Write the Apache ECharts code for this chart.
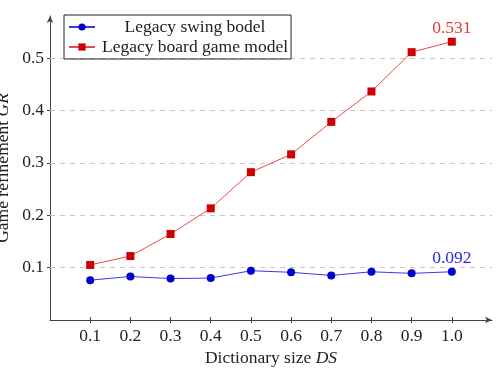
<!DOCTYPE html>
<html>
<head>
<meta charset="utf-8">
<script src="https://cdn.jsdelivr.net/npm/echarts@6/dist/echarts.min.js"></script>
<style>
  html, body { margin: 0; padding: 0; background: #fff; }
  #chart { width: 496px; height: 368px; }
</style>
</head>
<body>
<div id="chart"></div>
<script>
const dictSizes = [0.1, 0.2, 0.3, 0.4, 0.5, 0.6, 0.7, 0.8, 0.9, 1.0];
const swingModel = [0.076, 0.083, 0.079, 0.080, 0.094, 0.091, 0.085, 0.092, 0.089, 0.092];
const boardModel = [0.105, 0.122, 0.164, 0.213, 0.282, 0.316, 0.378, 0.436, 0.511, 0.531];
const xTicks = [0.1, 0.2, 0.3, 0.4, 0.5, 0.6, 0.7, 0.8, 0.9, 1.0];
const yTicks = [0.1, 0.2, 0.3, 0.4, 0.5];
const seriesNames = ["Legacy swing bodel", "Legacy board game model"];

const font = "'Liberation Serif', 'DejaVu Serif', serif";
const blue = "#0000cc", red = "#cc0000";
const fs = 17.5;

function points(values, labelColor) {
  return values.map((v, i) => {
    const p = { value: [dictSizes[i], v] };
    if (i === values.length - 1) {
      p.label = {
        show: true, position: "top", distance: 0,
        formatter: () => v.toFixed(3),
        color: labelColor, fontFamily: font, fontSize: fs,
      };
    }
    return p;
  });
}

// second, label-less axis on the same scale so ticks cross the axis line
const innerTicks = (ticks) => ({
  show: true, inside: true, length: 3, customValues: ticks, lineStyle: { color: "#444" },
});

const chart = echarts.init(document.getElementById("chart"));
chart.setOption({
  animation: false,
  grid: { left: 50, right: 4, top: 16, bottom: 48, containLabel: false, outerBoundsMode: "none" },
  legend: {
    orient: "vertical",
    left: 64, top: 15,
    padding: [3, 3, 3, 4],
    borderColor: "#222", borderWidth: 1,
    itemWidth: 26, itemHeight: 9, itemGap: 2,
    data: seriesNames,
    formatter: (n) => `{t|${n}}`,
    textStyle: {
      color: "#222", fontFamily: font, fontSize: fs,
      rich: { t: { width: 190, align: "center", fontFamily: font, fontSize: fs, color: "#222" } },
    },
  },
  xAxis: [
    {
      type: "value", min: 0, max: 1.1,
      name: "{n|Dictionary size }{i|DS}",
      nameLocation: "middle", nameGap: 29,
      nameTextStyle: {
        rich: {
          n: { fontFamily: font, fontSize: fs, color: "#222" },
          i: { fontFamily: font, fontSize: fs, fontStyle: "italic", color: "#222" },
        },
      },
      axisLine: { lineStyle: { color: "#444", width: 1 }, symbol: ["none", "arrow"], symbolSize: [5, 7] },
      axisTick: { show: true, length: 3, customValues: xTicks, lineStyle: { color: "#444" } },
      axisLabel: {
        customValues: xTicks, formatter: (v) => v.toFixed(1),
        color: "#222", fontFamily: font, fontSize: fs, margin: 7,
      },
      splitLine: { show: false },
    },
    {
      type: "value", min: 0, max: 1.1, position: "bottom",
      axisLine: { show: false }, axisLabel: { show: false }, splitLine: { show: false },
      axisTick: innerTicks(xTicks),
    },
  ],
  yAxis: [
    {
      type: "value", min: 0, max: 0.58,
      name: "{n|Game refinement }{i|GR}",
      nameLocation: "middle", nameGap: 38, nameRotate: 90, nameMoveOverlap: false,
      nameTextStyle: {
        rich: {
          n: { fontFamily: font, fontSize: fs, color: "#222" },
          i: { fontFamily: font, fontSize: fs, fontStyle: "italic", color: "#222" },
        },
      },
      axisLine: { show: true, lineStyle: { color: "#444", width: 1 }, symbol: ["none", "arrow"], symbolSize: [5, 7] },
      axisTick: { show: true, length: 3, customValues: yTicks, lineStyle: { color: "#444" } },
      axisLabel: {
        customValues: yTicks, formatter: (v) => v.toFixed(1),
        color: "#222", fontFamily: font, fontSize: fs, margin: 6,
      },
      splitLine: { show: false },
    },
    {
      type: "value", min: 0, max: 0.58, position: "left",
      axisLine: { show: false }, axisLabel: { show: false }, splitLine: { show: false },
      axisTick: innerTicks(yTicks),
    },
  ],
  series: [
    {
      name: seriesNames[0], type: "line",
      data: points(swingModel, "#2a2ae0"),
      symbol: "circle", symbolSize: 8,
      lineStyle: { color: "#3a3ae6", width: 1 },
      itemStyle: { color: blue },
      z: 3,
    },
    {
      name: seriesNames[1], type: "line",
      data: points(boardModel, "#e03a3a"),
      symbol: "rect", symbolSize: 8,
      lineStyle: { color: "#e84a4a", width: 1 },
      itemStyle: { color: red },
      z: 3,
      markLine: {
        silent: true, symbol: "none", label: { show: false },
        lineStyle: { color: "#c8c8c8", type: [5, 5], width: 1 },
        data: yTicks.map((t) => ({ yAxis: t })),
        z: 1,
      },
    },
  ],
});
</script>
</body>
</html>
